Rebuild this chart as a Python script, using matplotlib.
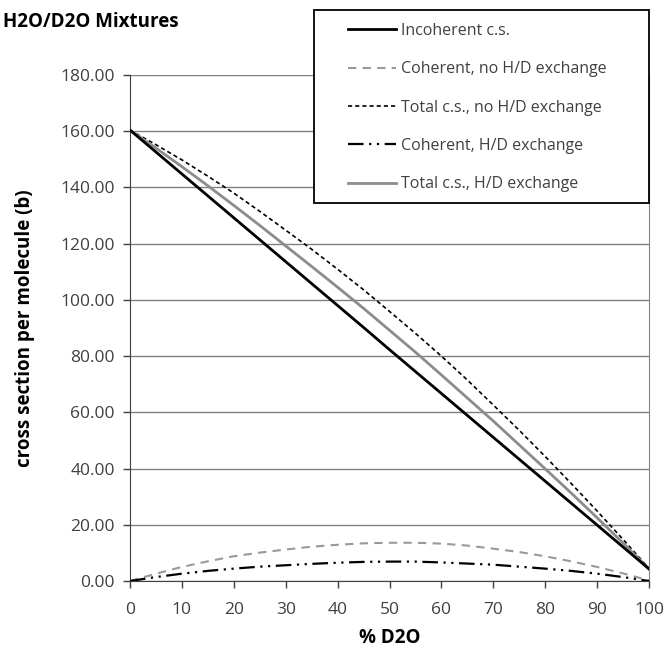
import numpy as np
import matplotlib
matplotlib.use("Agg")
import matplotlib.pyplot as plt
from matplotlib.patches import Rectangle

plt.rcParams['font.family'] = ['Open Sans', 'DejaVu Sans']

# % D2O
pct_d2o = [0, 5, 10, 15, 20, 25, 30, 35, 40, 45, 50, 55, 60, 65, 70, 75, 80, 85, 90, 95, 100]

incoherent = [160.4, 152.6, 144.8, 137.0, 129.2, 121.4, 113.6, 105.8, 98.0, 90.2, 82.3,
              74.5, 66.7, 58.9, 51.1, 43.3, 35.5, 27.7, 19.9, 12.1, 4.3]
coh_no_hd = [0.0, 2.6, 5.0, 7.0, 8.8, 10.1, 11.2, 12.2, 12.9, 13.4, 13.6,
             13.6, 13.3, 12.6, 11.5, 10.3, 8.8, 7.0, 5.0, 2.7, 0.2]
total_no_hd = [160.4, 155.2, 149.8, 144.0, 138.0, 131.5, 124.8, 118.0, 110.9, 103.6, 95.9,
               88.1, 80.0, 71.5, 62.6, 53.6, 44.3, 34.7, 24.9, 14.8, 4.5]
coh_hd = [0.0, 1.4, 2.6, 3.6, 4.4, 5.1, 5.6, 6.1, 6.5, 6.8, 6.9,
          6.9, 6.6, 6.2, 5.8, 5.1, 4.4, 3.6, 2.6, 1.4, 0.0]
total_hd = [160.4, 154.0, 147.4, 140.6, 133.6, 126.5, 119.2, 111.9, 104.5, 97.0, 89.2,
            81.4, 73.3, 65.1, 56.9, 48.4, 39.9, 31.3, 22.5, 13.5, 4.3]

labels = ["Incoherent c.s.", "Coherent, no H/D exchange", "Total c.s., no H/D exchange",
          "Coherent, H/D exchange", "Total c.s., H/D exchange"]

W, H = 665, 649
fig = plt.figure(figsize=(W / 100, H / 100), dpi=100)
ax = fig.add_axes([130 / W, 1 - 581 / H, 519 / W, 506 / H])

h1, = ax.plot(pct_d2o, incoherent, color='black', lw=2.0, zorder=5)
h2, = ax.plot(pct_d2o, coh_no_hd, color='#999999', lw=1.5, dashes=(4, 3), zorder=4)
h3, = ax.plot(pct_d2o, total_no_hd, color='black', lw=1.2, dashes=(2.5, 1.8), zorder=4)
h4, = ax.plot(pct_d2o, coh_hd, color='black', lw=1.6, dashes=(7, 2.5, 1, 2.5, 1, 2.5), zorder=4)
h5, = ax.plot(pct_d2o, total_hd, color='#8c8c8c', lw=2.0, zorder=4)

ax.set_xlim(0, 100)
ax.set_ylim(0, 180)
ax.set_xticks(range(0, 101, 10))
ax.set_yticks(range(0, 181, 20))
ax.yaxis.set_major_formatter(matplotlib.ticker.FormatStrFormatter('%.2f'))
ax.grid(axis='y', color='#808080', lw=1.0)
ax.set_axisbelow(True)
ax.spines['top'].set_visible(False)
ax.spines['right'].set_color('#808080')
ax.spines['left'].set_color('#404040')
ax.spines['bottom'].set_color('#404040')
ax.tick_params(direction='out', length=5, width=1, color='#404040',
               labelsize=12.5, labelcolor='#404040')
ax.tick_params(axis='x', pad=10)
ax.tick_params(axis='y', pad=6)

ax.set_xlabel("% D2O", fontsize=13.5, fontweight='bold', labelpad=7)
ax.set_ylabel("cross section per molecule (b)", fontsize=13.5, fontweight='bold', labelpad=18)
fig.text(3 / W, 1 - 22 / H, "H2O/D2O Mixtures", fontsize=13.5, fontweight='bold', va='center')

# legend box
fig.patches.append(Rectangle((314 / W, 1 - 203 / H), 335 / W, 193 / H,
                             transform=fig.transFigure, facecolor='white',
                             edgecolor='black', lw=1.3, zorder=10))
leg = fig.legend([h1, h2, h3, h4, h5], labels, loc='upper left',
                 bbox_to_anchor=(348 / W, 1 - 23 / H), frameon=False,
                 fontsize=11.5, handlelength=3.0, handletextpad=0.3,
                 labelspacing=1.4, borderpad=0, borderaxespad=0)
leg.set_zorder(11)
for t in leg.get_texts():
    t.set_color('#404040')

fig.savefig("out.png", dpi=100)
